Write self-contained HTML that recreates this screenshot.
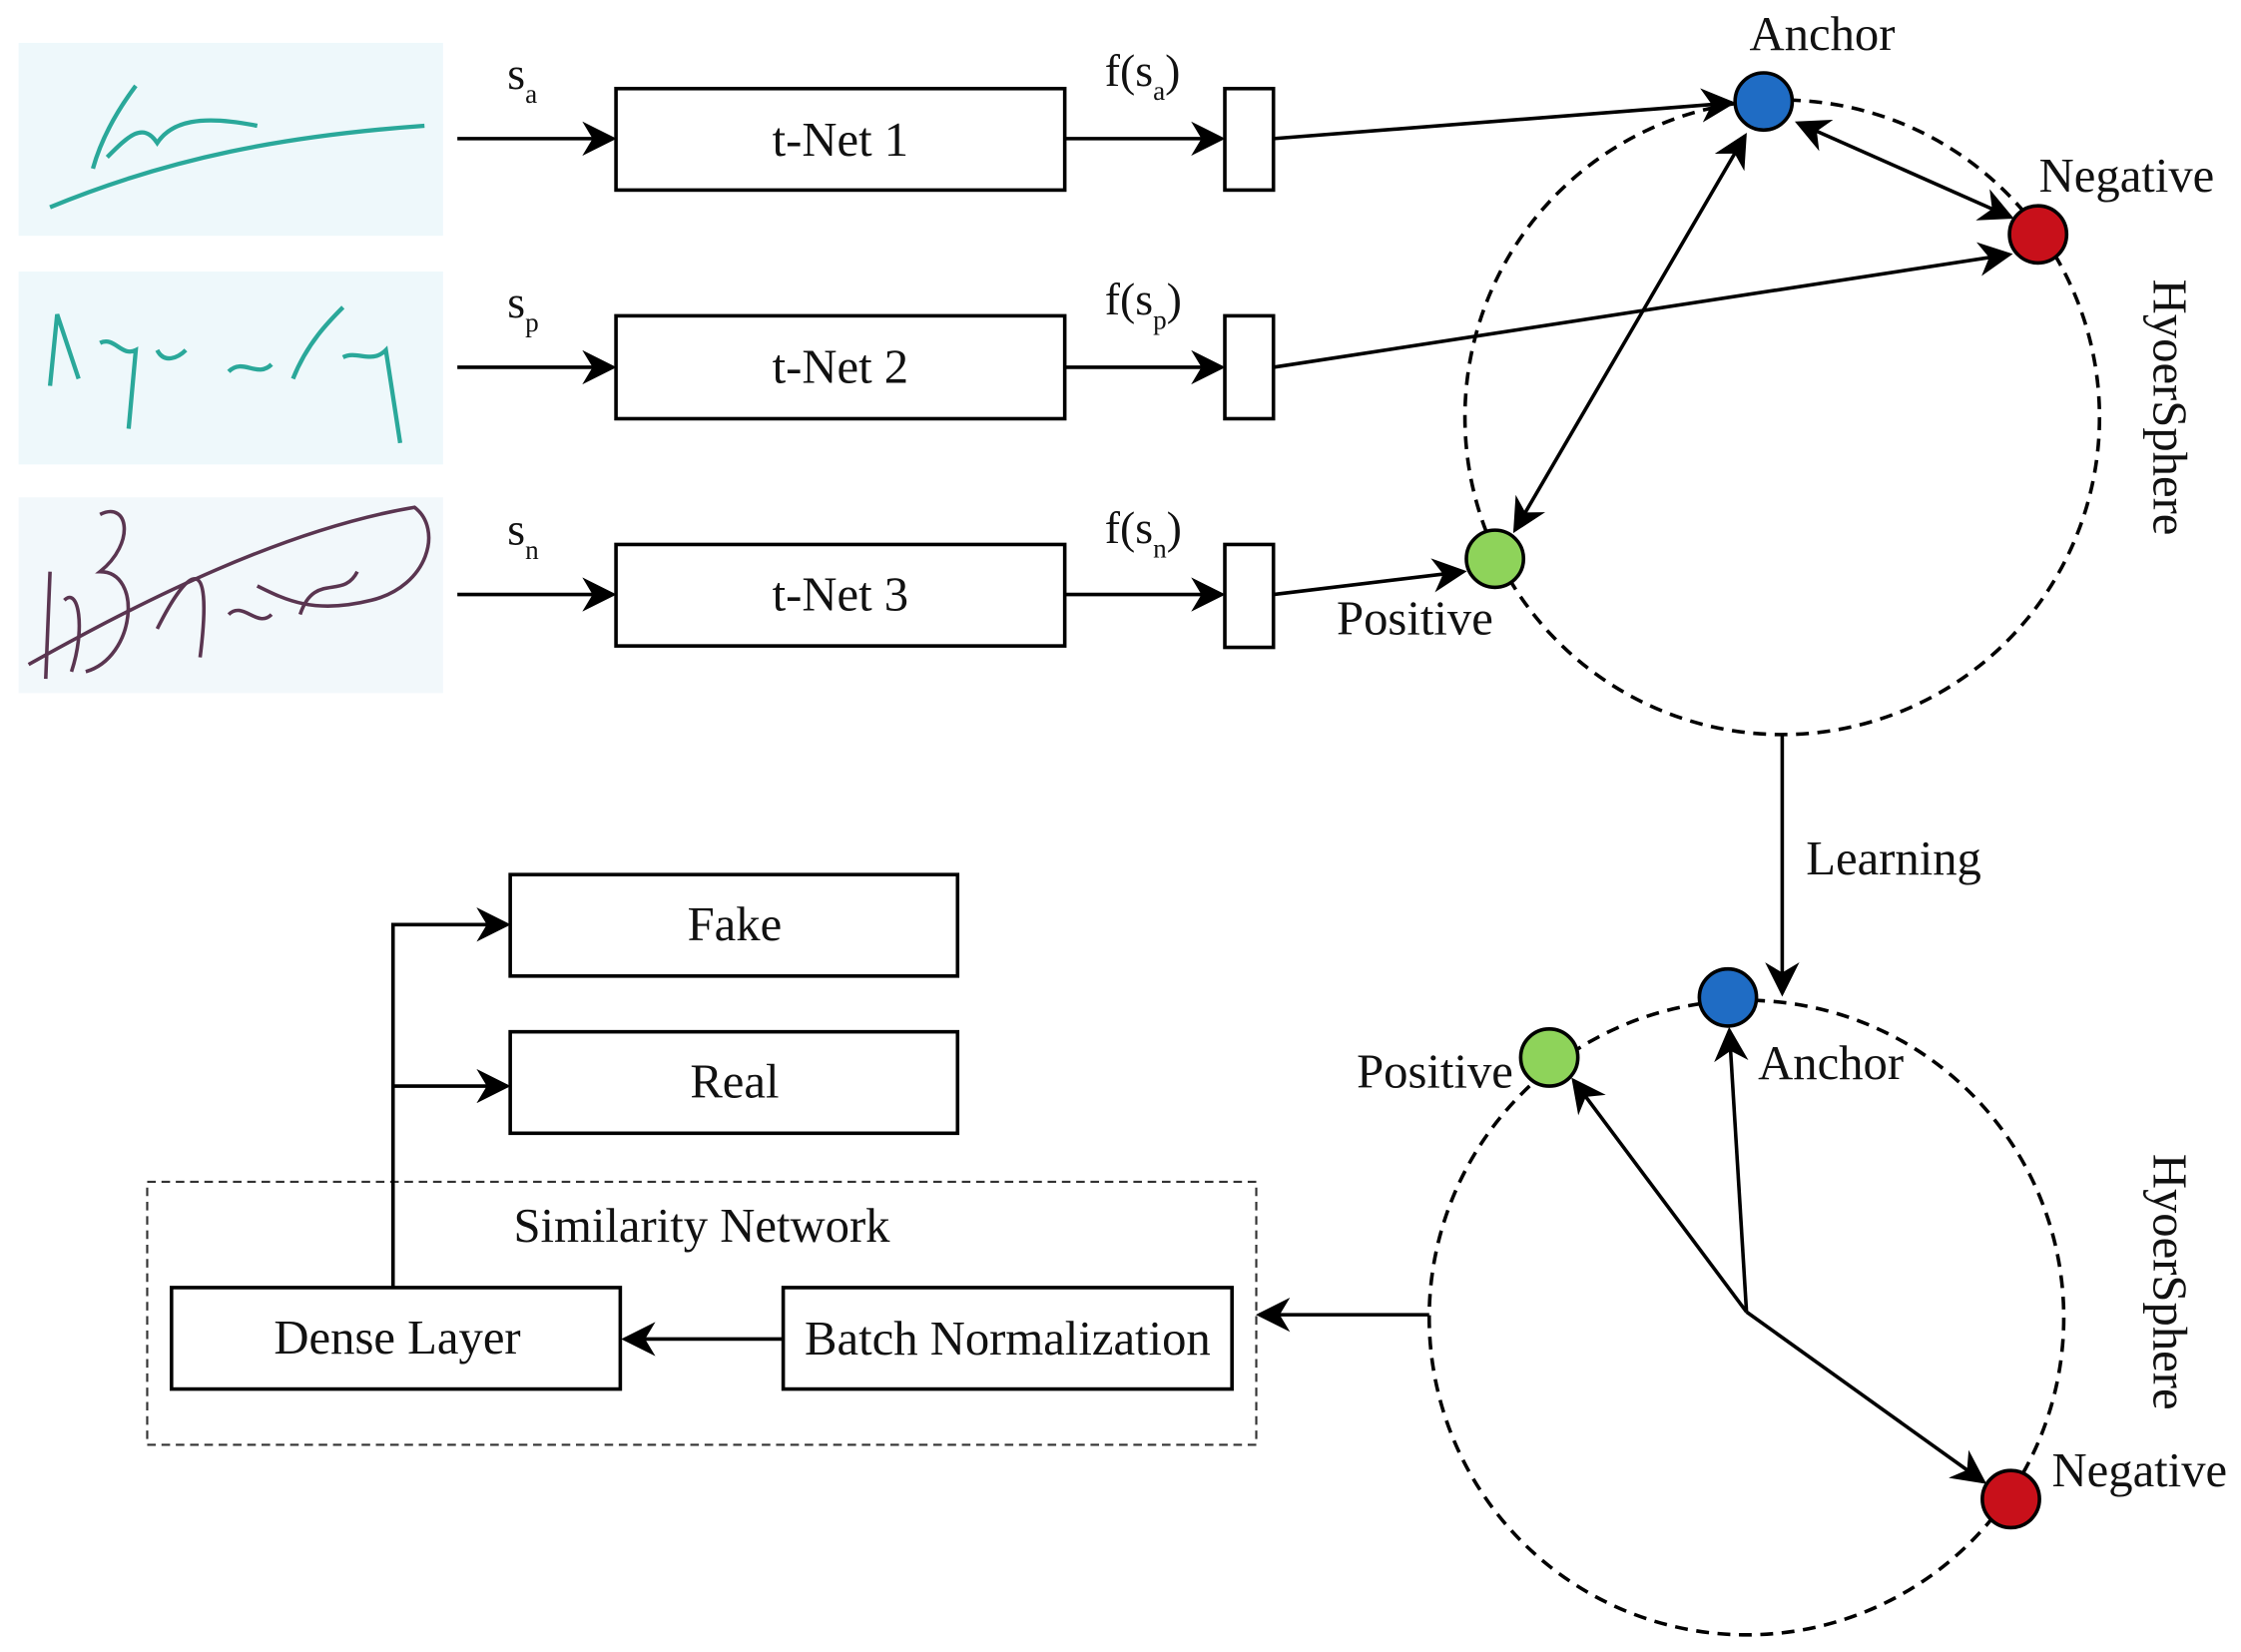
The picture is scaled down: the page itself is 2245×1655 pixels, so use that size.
<!DOCTYPE html>
<html><head><meta charset="utf-8"><style>
html,body{margin:0;padding:0;background:#fff;width:2245px;height:1655px;overflow:hidden}
svg{display:block}
text{font-family:"Liberation Serif",serif;fill:#111}
</style></head><body>
<svg width="2245" height="1655" viewBox="0 0 1568 1156" preserveAspectRatio="none" xmlns="http://www.w3.org/2000/svg">
<defs>
<marker id="b" viewBox="0 0 10 10" refX="9" refY="5" markerWidth="24" markerHeight="24" orient="auto-start-reverse" markerUnits="userSpaceOnUse">
<path d="M0,0 L10,5 L0,10 L3,5 z" fill="#000"/></marker>
</defs>
<rect x="13" y="30" width="297" height="135" fill="#eef8fb"/>
<rect x="13" y="190" width="297" height="135" fill="#eef8fb"/>
<rect x="13" y="348" width="297" height="137" fill="#f2f8fb"/>
<g fill="none" stroke="#2aa89a" stroke-width="3">
<path d="M35,145 C120,110 200,95 297,88"/>
<path d="M65,118 C70,100 80,80 95,60 M75,110 C90,95 100,85 110,100 C120,85 140,80 180,88"/>
<path d="M35,270 L40,220 L55,265 M70,240 C80,235 85,250 95,245 L90,300 M110,245 C115,255 125,250 130,245 M160,260 C170,250 180,265 190,255 M205,265 C215,240 230,225 240,215 M240,250 C250,245 260,255 270,245 L280,310"/>
</g>
<g fill="none" stroke="#5a3550" stroke-width="2.5">
<path d="M20,465 C100,420 200,370 290,355 C310,370 300,410 260,420 C220,430 200,420 180,410"/>
<path d="M35,400 L32,475 M45,420 C55,410 60,440 50,470 M70,360 C90,350 95,380 70,400 C100,400 95,460 60,470 M110,440 C130,400 150,380 140,460 M160,430 C170,420 180,440 190,430 M210,430 C220,400 240,420 250,400"/>
</g>
<g stroke="#000" stroke-width="2.5" fill="#fff">
<rect x="431" y="62" width="314" height="71"/>
<rect x="431" y="221" width="314" height="72"/>
<rect x="431" y="381" width="314" height="71"/>
<rect x="857" y="62" width="34" height="71"/>
<rect x="857" y="221" width="34" height="72"/>
<rect x="857" y="381" width="34" height="72"/>
<rect x="357" y="612" width="313" height="71"/>
<rect x="357" y="722" width="313" height="71"/>
<rect x="120" y="901" width="314" height="71"/>
<rect x="548" y="901" width="314" height="71"/>
</g>
<rect x="103" y="827" width="776" height="184" fill="none" stroke="#333" stroke-width="1.5" stroke-dasharray="6,4"/>
<g stroke="#000" stroke-width="2.5" fill="none" marker-end="url(#b)">
<line x1="320" y1="97" x2="429" y2="97"/>
<line x1="320" y1="257" x2="429" y2="257"/>
<line x1="320" y1="416" x2="429" y2="416"/>
<line x1="745" y1="97" x2="855" y2="97"/>
<line x1="745" y1="257" x2="855" y2="257"/>
<line x1="745" y1="416" x2="855" y2="416"/>
<line x1="891" y1="97" x2="1212" y2="72"/>
<line x1="891" y1="257" x2="1406" y2="178"/>
<line x1="891" y1="416" x2="1024" y2="400"/>
<line x1="1247" y1="514" x2="1247" y2="695"/>
<line x1="1222" y1="918" x2="1210" y2="721"/>
<line x1="1222" y1="918" x2="1101" y2="756"/>
<line x1="1222" y1="918" x2="1388" y2="1037"/>
<line x1="1000" y1="920" x2="881" y2="920"/>
<line x1="548" y1="937" x2="437" y2="937"/>
<polyline points="275,901 275,647 355,647"/>
<line x1="275" y1="760" x2="355" y2="760"/>
<line x1="1258" y1="86" x2="1407" y2="152" marker-start="url(#b)"/>
<line x1="1221" y1="95" x2="1060" y2="371" marker-start="url(#b)"/>
</g>
<circle cx="1247" cy="292" r="222" fill="none" stroke="#000" stroke-width="2.5" stroke-dasharray="9,6"/>
<circle cx="1222" cy="922" r="222" fill="none" stroke="#000" stroke-width="2.5" stroke-dasharray="9,6"/>
<g stroke="#000" stroke-width="2.5">
<circle cx="1234" cy="71" r="20" fill="#1f6cc4"/>
<circle cx="1426" cy="164" r="20" fill="#c8101a"/>
<circle cx="1046" cy="391" r="20" fill="#8ed35a"/>
<circle cx="1209" cy="698" r="20" fill="#1f6cc4"/>
<circle cx="1084" cy="740" r="20" fill="#8ed35a"/>
<circle cx="1407" cy="1049" r="20" fill="#c8101a"/>
</g>
<g font-size="34" text-anchor="middle">
<text x="588" y="109">t-Net 1</text>
<text x="588" y="268">t-Net 2</text>
<text x="588" y="427">t-Net 3</text>
<text x="514" y="658">Fake</text>
<text x="514" y="768">Real</text>
<text x="278" y="947">Dense Layer</text>
<text x="705" y="948">Batch Normalization</text>
<text x="491" y="869">Similarity Network</text>
<text x="1275" y="35">Anchor</text>
<text x="1488" y="134">Negative</text>
<text x="990" y="444">Positive</text>
<text x="1325" y="612">Learning</text>
<text x="1281" y="755">Anchor</text>
<text x="1004" y="761">Positive</text>
<text x="1497" y="1040">Negative</text>
<text transform="translate(1507,285) rotate(90)">HyoerSphere</text>
<text transform="translate(1507,897) rotate(90)">HyoerSphere</text>
</g>
<g font-size="32">
<text x="355" y="62">s<tspan font-size="19" dy="10">a</tspan></text>
<text x="355" y="222">s<tspan font-size="19" dy="10">p</tspan></text>
<text x="355" y="381">s<tspan font-size="19" dy="10">n</tspan></text>
<text x="773" y="60">f(s<tspan font-size="19" dy="10">a</tspan><tspan dy="-10">)</tspan></text>
<text x="773" y="220">f(s<tspan font-size="19" dy="10">p</tspan><tspan dy="-10">)</tspan></text>
<text x="773" y="380">f(s<tspan font-size="19" dy="10">n</tspan><tspan dy="-10">)</tspan></text>
</g>
</svg>
</body></html>
